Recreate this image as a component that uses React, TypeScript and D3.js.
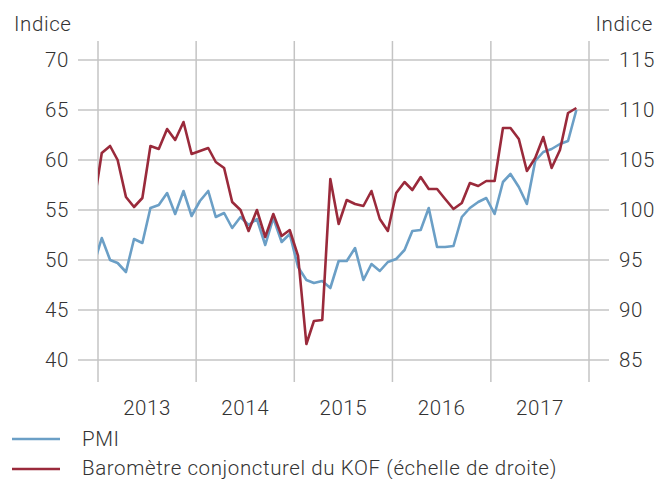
import React from "react";
import * as d3 from "d3";

const W = 658;
const H = 479;

// Monthly values starting Dec 2012
const startYear = 2012;
const startMonth = 11; // December (0-based)

const pmi = [
  49.4,
  52.2, 50.0, 49.7, 48.8, 52.1, 51.7, 55.2, 55.5, 56.7, 54.6, 56.9, 54.4,
  55.9, 56.9, 54.3, 54.7, 53.2, 54.3, 53.5, 54.1, 51.5, 54.2, 51.8, 52.6,
  49.3, 48.0, 47.7, 47.9, 47.2, 49.9, 49.9, 51.2, 48.0, 49.6, 48.9, 49.8,
  50.1, 51.0, 52.9, 53.0, 55.2, 51.3, 51.3, 51.4, 54.3, 55.2, 55.8, 56.2,
  54.6, 57.8, 58.6, 57.3, 55.6, 59.9, 60.8, 61.1, 61.6, 61.9, 65.0,
];

const kof = [
  100.3,
  105.7, 106.4, 105.0, 101.3, 100.3, 101.2, 106.4, 106.1, 108.1, 107.0, 108.8, 105.6,
  105.9, 106.2, 104.8, 104.2, 100.8, 100.0, 97.9, 100.0, 97.3, 99.6, 97.4, 98.0,
  95.4, 86.6, 88.9, 89.0, 103.1, 98.6, 101.0, 100.6, 100.4, 101.9, 99.1, 97.9,
  101.7, 102.8, 102.0, 103.3, 102.1, 102.1, 101.1, 100.1, 100.7, 102.7, 102.4, 102.9,
  102.9, 108.2, 108.2, 107.1, 103.9, 105.2, 107.3, 104.2, 106.0, 109.7, 110.2,
];

const years = [2013, 2014, 2015, 2016, 2017];
const leftTicks = [40, 45, 50, 55, 60, 65, 70];
const rightTicks = [85, 90, 95, 100, 105, 110, 115];

const seriesNames = ["PMI", "Baromètre conjoncturel du KOF (échelle de droite)"];
const colors = ["#6b9fc6", "#9a2a3b"];

const FONT = "Roboto, 'Liberation Sans', sans-serif";

export default function App() {
  const x0 = 98, x1 = 589;
  const y0 = 360, y1 = 60;
  const x = d3.scaleTime().domain([new Date(2013, 0, 1), new Date(2018, 0, 1)]).range([x0, x1]);
  const yL = d3.scaleLinear().domain([40, 70]).range([y0, y1]);
  const yR = d3.scaleLinear().domain([85, 115]).range([y0, y1]);

  const dateOf = (i: number) => new Date(startYear, startMonth + i, 15);

  const linePmi = d3.line<number>().x((_, i) => x(dateOf(i))).y((d) => yL(d));
  const lineKof = d3.line<number>().x((_, i) => x(dateOf(i))).y((d) => yR(d));

  const gridColor = "#c4c4c4";
  const textColor = "#333333";
  const fs = 20.5;
  const ls = 0.6;
  const tp = { fontFamily: FONT, fontWeight: 300, fontSize: fs, fill: textColor, letterSpacing: ls };

  return (
    <svg width={W} height={H} style={{ position: "absolute", left: 0, top: 0, background: "#fff" }}>
      <defs>
        <clipPath id="plotclip">
          <rect x={x0} y={0} width={x1 - x0} height={H} />
        </clipPath>
      </defs>
      {leftTicks.map((t) => (
        <line key={"h" + t} x1={78} x2={609} y1={yL(t)} y2={yL(t)} stroke={gridColor} strokeWidth={1.5} />
      ))}
      {[...years, 2018].map((yr) => (
        <line key={"v" + yr} x1={x(new Date(yr, 0, 1))} x2={x(new Date(yr, 0, 1))} y1={41} y2={382} stroke={gridColor} strokeWidth={1.5} />
      ))}
      {leftTicks.map((t) => (
        <text key={"l" + t} x={69} y={yL(t) + 7} textAnchor="end" {...tp}>{t}</text>
      ))}
      {rightTicks.map((t) => (
        <text key={"r" + t} x={619} y={yR(t) + 7} textAnchor="start" {...tp}>{t}</text>
      ))}
      <text x={14} y={31} {...tp}>Indice</text>
      <text x={653} y={31} textAnchor="end" {...tp}>Indice</text>
      {years.map((yr) => (
        <text key={"y" + yr} x={(x(new Date(yr, 0, 1)) + x(new Date(yr + 1, 0, 1))) / 2} y={415} textAnchor="middle" {...tp}>{yr}</text>
      ))}
      <g clipPath="url(#plotclip)">
        <path d={linePmi(pmi) || ""} fill="none" stroke={colors[0]} strokeWidth={2.6} strokeLinejoin="round" />
        <path d={lineKof(kof) || ""} fill="none" stroke={colors[1]} strokeWidth={2.6} strokeLinejoin="round" />
      </g>
      {seriesNames.map((n, i) => (
        <g key={n}>
          <line x1={12} x2={60} y1={439 + i * 30} y2={439 + i * 30} stroke={colors[i]} strokeWidth={2.6} />
          <text x={82} y={446 + i * 29} {...tp}>{n}</text>
        </g>
      ))}
    </svg>
  );
}
